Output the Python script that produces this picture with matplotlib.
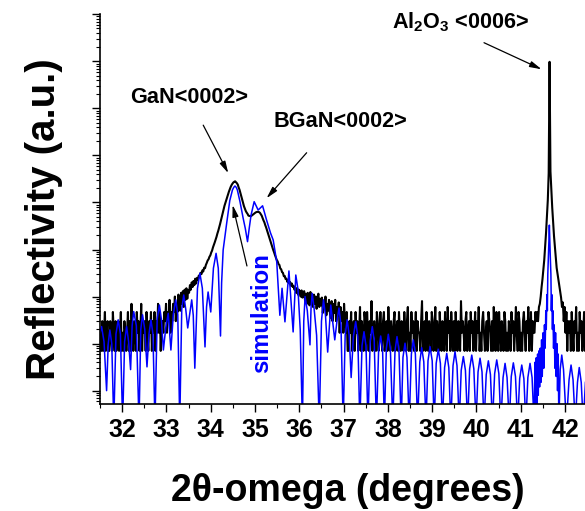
import numpy as np
import matplotlib
matplotlib.use("Agg")
import matplotlib.pyplot as plt
from matplotlib.ticker import LogLocator, NullFormatter, MultipleLocator

plt.rcParams['font.family'] = ['Liberation Sans', 'DejaVu Sans']
plt.rcParams['font.weight'] = 'bold'
plt.rcParams['mathtext.fontset'] = 'custom'
plt.rcParams['mathtext.default'] = 'regular'

# measured scan: 0.02 deg steps from 31.51, ten points per row
meas_start = 31.51
meas_step = 0.02
meas_counts = [
    17, 7, 30, 7, 17, 47, 7, 17, 30, 7,
    7, 30, 17, 7, 47, 17, 7, 30, 7, 17,
    30, 7, 17, 47, 7, 17, 7, 30, 17, 7,
    17, 47, 7, 30, 7, 70, 17, 7, 30, 17,
    7, 47, 17, 30, 7, 17, 70, 7, 30, 17,
    30, 7, 47, 17, 7, 30, 17, 47, 7, 30,
    17, 47, 7, 30, 17, 70, 17, 47, 7, 30,
    30, 17, 47, 30, 70, 17, 47, 30, 85, 17,
    47, 30, 70, 47, 100, 30, 70, 47, 110, 60,
    50, 120, 70, 130, 60, 140, 85, 150, 90, 135,
    120, 175, 140, 200, 160, 215, 175, 240, 190, 250,
    230, 280, 260, 320, 300, 360, 340, 410, 400, 470,
    520, 585, 620, 700, 750, 860, 950, 1110, 1250, 1420,
    1620, 1860, 2190, 2510, 2950, 3470, 4170, 5010, 6030, 7240,
    8510, 9770, 11200, 12900, 14800, 17000, 19100, 21400, 23400, 25100,
    26600, 27500, 28200, 26900, 25700, 24000, 20900, 18600, 15800, 13500,
    11500, 9770, 8320, 7410, 6610, 6100, 5750, 5250, 5190, 5130,
    5130, 5310, 5500, 5690, 5890, 6100, 6240, 6310, 6310, 6240,
    6030, 5620, 5250, 4680, 4170, 3800, 3310, 2950, 2570, 2240,
    1950, 1700, 1480, 1290, 1120, 980, 870, 760, 676, 600,
    560, 490, 470, 395, 380, 330, 320, 270, 275, 235,
    240, 205, 225, 190, 205, 170, 190, 160, 170, 140,
    155, 120, 150, 110, 140, 125, 100, 135, 95, 125,
    130, 80, 115, 70, 120, 95, 65, 125, 75, 100,
    60, 110, 70, 100, 55, 95, 115, 60, 90, 65,
    95, 45, 80, 55, 100, 40, 70, 50, 85, 45,
    35, 80, 30, 70, 45, 85, 30, 60, 40, 75,
    17, 60, 30, 47, 17, 70, 30, 17, 47, 7,
    7, 30, 17, 47, 7, 17, 30, 7, 47, 17,
    30, 7, 17, 60, 7, 30, 17, 7, 47, 30,
    7, 47, 17, 7, 30, 17, 80, 7, 17, 30,
    17, 7, 47, 30, 7, 17, 47, 17, 7, 30,
    47, 7, 17, 30, 7, 60, 17, 7, 30, 17,
    7, 30, 47, 7, 17, 30, 7, 47, 17, 7,
    30, 17, 7, 47, 17, 7, 30, 60, 7, 17,
    7, 47, 17, 30, 7, 17, 47, 7, 30, 17,
    17, 7, 30, 80, 7, 17, 30, 7, 47, 17,
    7, 30, 17, 7, 47, 30, 7, 17, 60, 7,
    30, 17, 7, 47, 17, 7, 30, 17, 7, 47,
    17, 7, 60, 17, 30, 7, 47, 17, 7, 30,
    7, 47, 17, 7, 30, 17, 7, 80, 17, 30,
    17, 7, 30, 47, 7, 17, 30, 7, 47, 17,
    30, 7, 17, 47, 7, 30, 17, 60, 7, 17,
    7, 30, 47, 17, 7, 17, 30, 7, 47, 30,
    17, 7, 30, 7, 60, 17, 7, 47, 17, 7,
    47, 17, 7, 30, 17, 7, 47, 30, 7, 17,
    7, 30, 17, 7, 47, 17, 30, 7, 17, 60,
    17, 7, 47, 30, 7, 17, 7, 30, 47, 17,
    7, 30, 17, 60, 7, 17, 47, 7, 30, 17,
    17, 47, 30, 47, 30, 60, 70, 100, 160, 235,
    372, 603, 1175, 2240, 5010, 11200, 41700, 9770000, 45700, 17800,
    7760, 3800, 1950, 1150, 660, 407, 302, 224, 166, 123,
    95, 60, 75, 30, 60, 17, 47, 7, 30, 17,
    30, 7, 47, 17, 7, 30, 17, 60, 7, 17,
    7, 47, 17, 30, 7, 17, 47, 7, 30, 17,
]
meas_2theta = meas_start + meas_step * np.arange(len(meas_counts))

# simulated curve, (2theta, intensity)
sim_left = [
    (31.50, 17), (31.535, 23), (31.59, 11), (31.648, 1.0), (31.685, 10), (31.722, 19.5),
    (31.765, 10), (31.81, 0.2), (31.86, 16), (31.91, 32), (31.96, 16), (32.01, 0.2),
    (32.055, 11), (32.10, 23), (32.145, 11), (32.19, 2.8), (32.225, 24), (32.26, 48),
    (32.32, 24), (32.38, 0.2), (32.42, 20), (32.46, 41), (32.51, 20), (32.56, 3.2),
    (32.605, 16), (32.65, 32), (32.695, 16), (32.74, 0.2), (32.79, 33), (32.84, 66),
    (32.885, 33), (32.93, 7.3), (32.985, 22), (33.04, 44), (33.10, 7.3), (33.155, 42),
    (33.21, 85), (33.255, 42), (33.30, 0.2), (33.345, 54), (33.39, 108), (33.435, 54),
    (33.48, 21.5), (33.525, 43), (33.57, 85), (33.605, 40), (33.64, 3.0), (33.70, 150),
    (33.755, 313), (33.81, 150), (33.87, 8.5), (33.905, 60), (33.94, 125), (34.00, 47),
    (34.06, 400), (34.12, 830), (34.17, 400), (34.22, 14.5),
]
sim_gan = [
    (34.245, 195), (34.28, 980), (34.36, 3650), (34.43, 1.1e4), (34.49, 1.85e4),
    (34.52, 2.1e4), (34.546, 2.24e4), (34.575, 2.1e4), (34.60, 1.85e4), (34.66, 1.04e4),
    (34.73, 4700), (34.78, 2800), (34.83, 1470), (34.87, 2900), (34.91, 5400),
    (34.98, 1.04e4), (35.07, 6900), (35.17, 8500), (35.26, 4240), (35.35, 2240),
    (35.41, 1590), (35.49, 543), (35.56, 40), (35.61, 150), (35.675, 29), (35.765, 350),
    (35.86, 17.7), (35.92, 287), (35.97, 140), (36.02, 20), (36.07, 0.2), (36.10, 30),
    (36.13, 100), (36.18, 50), (36.24, 9.4), (36.265, 60), (36.29, 117), (36.33, 60),
    (36.39, 15), (36.45, 0.2), (36.50, 30), (36.545, 85), (36.59, 40), (36.64, 6.6),
    (36.71, 66), (36.80, 12), (36.85, 30), (36.895, 57), (36.94, 25), (36.99, 0.2),
    (37.035, 15), (37.08, 32), (37.125, 15), (37.17, 1.9), (37.22, 14), (37.272, 29.3),
    (37.32, 14), (37.366, 0.2),
]
sim_fringes = [
    (37.415, 9), (37.46, 17.9), (37.505, 9), (37.55, 0.2),
    (37.60, 11.5), (37.647, 22.9), (37.69, 11.5), (37.74, 0.2),
    (37.79, 7.2), (37.837, 14.5), (37.88, 7.2), (37.92, 0.2),
    (37.965, 7.9), (38.009, 15.8), (38.055, 7.9), (38.11, 0.2),
    (38.16, 7), (38.205, 14.1), (38.25, 7), (38.30, 0.2),
    (38.34, 5.1), (38.386, 10.2), (38.43, 5.1), (38.48, 0.2),
    (38.53, 6), (38.573, 12.0), (38.62, 6), (38.67, 0.2),
    (38.72, 4.1), (38.763, 8.2), (38.81, 4.1), (38.86, 0.2),
    (38.905, 4.3), (38.951, 8.6), (39.00, 4.3), (39.045, 0.2),
    (39.09, 3.8), (39.138, 7.6), (39.185, 3.8), (39.23, 0.2),
    (39.28, 3.1), (39.328, 6.2), (39.375, 3.1), (39.42, 0.2),
    (39.47, 3.4), (39.515, 6.7), (39.56, 3.4), (39.61, 0.2),
    (39.655, 2.7), (39.703, 5.3), (39.75, 2.7), (39.80, 0.2),
    (39.845, 2.9), (39.893, 5.7), (39.94, 2.9), (39.99, 0.2),
    (40.035, 2.5), (40.08, 4.9), (40.125, 2.5), (40.17, 0.2),
    (40.22, 2.2), (40.268, 4.3), (40.315, 2.2), (40.36, 0.2),
    (40.41, 2.3), (40.457, 4.5), (40.505, 2.3), (40.55, 0.2),
    (40.60, 1.9), (40.645, 3.8), (40.69, 1.9), (40.74, 0.2),
    (40.785, 2.0), (40.832, 3.9), (40.88, 2.0), (40.93, 0.2),
    (40.975, 1.8), (41.022, 3.5), (41.07, 1.8), (41.115, 0.2),
    (41.16, 1.9), (41.209, 3.8), (41.255, 1.9),
]
sim_sapphire = [
    (41.30, 0.2), (41.32, 4), (41.335, 0.3), (41.35, 5), (41.365, 0.5), (41.38, 6),
    (41.395, 0.8), (41.41, 7), (41.425, 1.2), (41.44, 8), (41.455, 1.5), (41.47, 12),
    (41.485, 2), (41.505, 17), (41.52, 3), (41.535, 25), (41.55, 8), (41.565, 50),
    (41.575, 20), (41.59, 110), (41.60, 50), (41.61, 300), (41.62, 550), (41.635, 1500),
    (41.645, 3300), (41.655, 1500), (41.67, 550), (41.68, 300), (41.69, 50), (41.70, 110),
    (41.715, 20), (41.725, 50), (41.74, 8), (41.755, 25), (41.77, 3), (41.785, 17),
    (41.80, 2), (41.815, 10), (41.83, 1), (41.845, 6), (41.86, 0.2), (41.89, 2.8),
    (41.925, 5.7), (41.965, 2.8), (42.03, 0.2), (42.09, 1.7), (42.135, 3.5), (42.18, 1.7),
    (42.23, 0.2), (42.28, 1.5), (42.32, 3.1), (42.365, 1.5), (42.41, 0.2), (42.46, 1.5),
]
sim = np.array(sim_left + sim_gan + sim_fringes + sim_sapphire)

fig = plt.figure(figsize=(5.85, 5.11), dpi=100)
ax = fig.add_axes([0.171, 0.2094, 0.829, 0.7626])

ax.plot(meas_2theta, meas_counts, color='black', lw=1.5)
ax.plot(sim[:, 0], sim[:, 1], color='#0000ff', lw=1.1)

ax.set_yscale('log')
ax.set_xlim(31.5, 42.45)
ax.set_ylim(0.52, 1e8)

ax.spines['top'].set_visible(False)
ax.spines['right'].set_visible(False)
ax.spines['left'].set_linewidth(1.2)
ax.spines['bottom'].set_linewidth(1.2)

ax.xaxis.set_major_locator(MultipleLocator(1))
ax.xaxis.set_minor_locator(MultipleLocator(0.5))
ax.yaxis.set_major_locator(LogLocator(base=10, numticks=20))
ax.yaxis.set_minor_locator(LogLocator(base=10, subs=np.arange(2, 10), numticks=20))
ax.yaxis.set_major_formatter(NullFormatter())
ax.yaxis.set_minor_formatter(NullFormatter())
ax.tick_params(which='major', length=6, width=1.0, direction='out', pad=4)
ax.tick_params(which='minor', length=3, width=0.8, direction='out')
ax.tick_params(axis='x', labelsize=18)
for lab in ax.get_xticklabels():
    lab.set_fontweight('bold')

ax.set_xlabel('2θ-omega (degrees)', fontsize=27, fontweight='bold')
ax.set_ylabel('Reflectivity (a.u.)', fontsize=29, fontweight='bold')
ax.xaxis.set_label_coords(0.51, -0.177)
ax.yaxis.set_label_coords(-0.077, 0.475)

arrow = dict(arrowstyle='-|>,head_length=0.7,head_width=0.18', color='black', lw=0.9,
             shrinkA=0, shrinkB=0)
ax.annotate('', xy=(34.395, 4.2e4), xytext=(33.83, 4.4e5), arrowprops=arrow)
ax.annotate('', xy=(35.26, 1.23e4), xytext=(36.165, 1.14e5), arrowprops=arrow)
ax.annotate('', xy=(34.494, 8850), xytext=(34.817, 447), arrowprops=arrow)
ax.annotate('', xy=(41.47, 6.78e6), xytext=(40.17, 2.49e7), arrowprops=arrow)

ax.text(33.51, 1.28e6, 'GaN<0002>', fontsize=15.6, fontweight='bold',
        ha='center', va='baseline')
ax.text(36.92, 4.03e5, 'BGaN<0002>', fontsize=15.6, fontweight='bold',
        ha='center', va='baseline')
ax.text(39.65, 5.0e7, 'Al$_2$O$_3$ <0006>', fontsize=15.6, fontweight='bold',
        ha='center', va='baseline')
ax.text(35.138, 44.8, 'simulation', fontsize=17.3, fontweight='bold', color='#0000ff',
        rotation=90, ha='center', va='center')

fig.savefig('out.png', dpi=100)
